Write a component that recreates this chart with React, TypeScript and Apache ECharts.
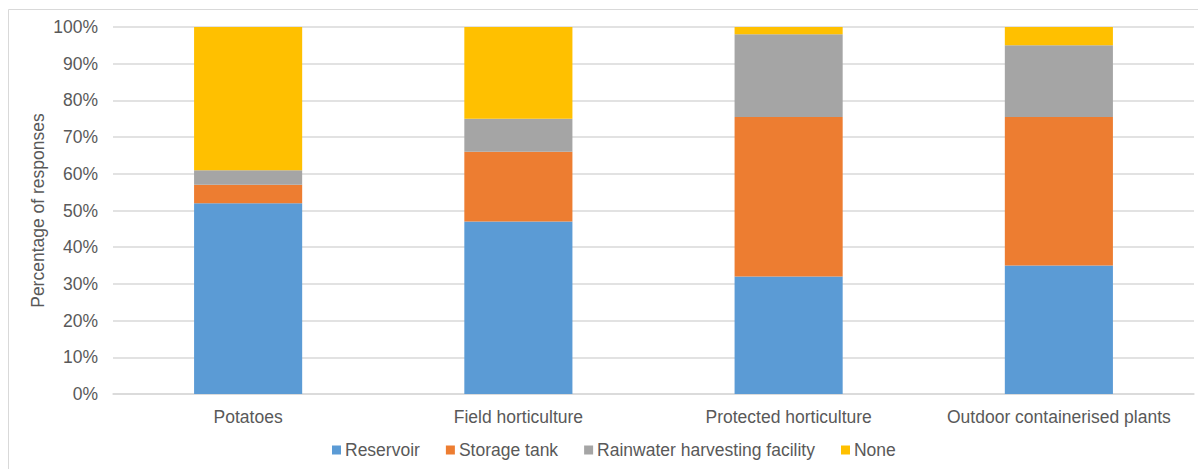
import React, { useEffect, useRef } from "react";
import * as echarts from "echarts";

const categories = ["Potatoes", "Field horticulture", "Protected horticulture", "Outdoor containerised plants"];
const seriesNames = ["Reservoir", "Storage tank", "Rainwater harvesting facility", "None"];
const reservoir = [52, 47, 32, 35];
const storageTank = [5, 19, 43.5, 40.5];
const rainwater = [4, 9, 22.5, 19.5];
const none = [39, 25, 2, 5];
const colors = ["#5B9BD5", "#ED7D31", "#A5A5A5", "#FFC000"];

const FONT = "'Liberation Sans', Arial, sans-serif";
const TEXT = "#595959";
const FS = 17.5;

export default function App() {
  const ref = useRef<HTMLDivElement>(null);

  useEffect(() => {
    if (!ref.current) return;
    const chart = echarts.init(ref.current, undefined, { renderer: "svg" });
    const values = [reservoir, storageTank, rainwater, none];
    chart.setOption({
      animation: false,
      backgroundColor: "#ffffff",
      textStyle: { fontFamily: FONT },
      graphic: [
        {
          type: "rect",
          shape: { x: 8.5, y: 9.5, width: 1200, height: 470 },
          style: { fill: "none", stroke: "#d9d9d9", lineWidth: 1 },
          silent: true,
        },
      ],
      grid: { left: 113, right: 4, top: 27, bottom: 75 },
      legend: {
        left: 332,
        top: 441,
        padding: 0,
        itemWidth: 9,
        itemHeight: 9,
        itemGap: 26,
        icon: "rect",
        textStyle: { color: TEXT, fontSize: FS, fontFamily: FONT, padding: [0, 0, 0, -1] },
        data: seriesNames,
      },
      xAxis: {
        type: "category",
        data: categories,
        axisLine: { show: true, lineStyle: { color: "#d9d9d9", width: 1.5 } },
        axisTick: { show: false },
        axisLabel: { color: TEXT, fontSize: FS, fontFamily: FONT, margin: 14, interval: 0 },
      },
      yAxis: {
        type: "value",
        min: 0,
        max: 100,
        interval: 10,
        name: "Percentage of responses",
        nameLocation: "middle",
        nameGap: 66,
        nameMoveOverlap: false,
        nameTextStyle: { color: TEXT, fontSize: FS, fontFamily: FONT },
        axisLine: { show: false },
        axisTick: { show: false },
        splitLine: { lineStyle: { color: "#d9d9d9", width: 1.5 } },
        axisLabel: { color: TEXT, fontSize: FS, fontFamily: FONT, margin: 15, formatter: "{value}%" },
      },
      series: seriesNames.map((name, i) => ({
        name,
        type: "bar",
        stack: "total",
        barCategoryGap: "60%",
        itemStyle: { color: colors[i] },
        data: values[i],
      })),
    });
    return () => chart.dispose();
  }, []);

  return (
    <div
      ref={ref}
      style={{ position: "fixed", left: 0, top: 0, width: 1198, height: 469 }}
    />
  );
}
